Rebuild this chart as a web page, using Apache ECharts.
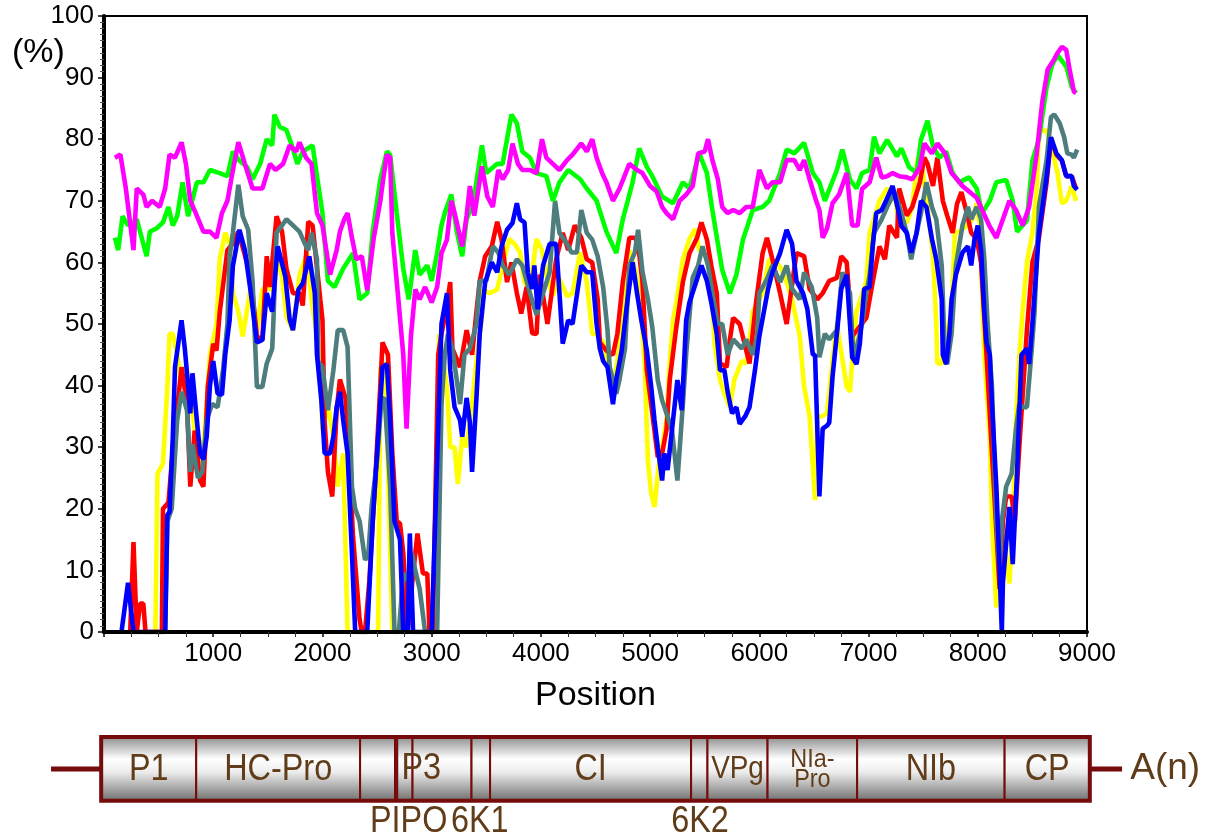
<!DOCTYPE html>
<html>
<head>
<meta charset="utf-8">
<script src="https://cdn.jsdelivr.net/npm/echarts@6/dist/echarts.min.js"></script>
<style>
  html, body { margin: 0; padding: 0; background: #fff; }
  #chart { width: 1221px; height: 839px; }
</style>
</head>
<body>
<div id="chart"></div>
<script>
// similarity curves, [position, %]
const greenPts = [[100,64],[130,62],[170,67.5],[220,66],[300,67],[390,61],[420,65],[480,65.5],[540,66.5],[590,69],[630,66],[670,67.5],[720,73],[770,67.5],[850,73],[910,73],[970,75],[1060,74.5],[1130,74],[1180,78],[1240,76.5],[1310,75.5],[1360,73.5],[1430,76],[1490,80],[1540,79],[1560,84],[1610,82],[1670,81.5],[1720,79],[1770,76],[1820,78],[1910,79],[1950,74],[2000,68],[2050,57],[2110,56],[2190,59],[2280,61.5],[2340,54],[2410,55],[2460,65],[2530,73.5],[2590,78],[2620,77.5],[2680,68],[2740,59],[2790,54],[2850,62],[2890,58],[2960,59.5],[3000,57],[3050,61.5],[3090,66],[3120,68],[3180,71],[3230,65],[3280,61],[3320,67],[3380,69.6],[3460,79],[3500,74.5],[3600,76],[3650,76],[3730,84],[3780,82.6],[3830,78],[3900,77],[3960,74.5],[4050,74],[4110,70],[4170,73],[4250,75],[4360,73.5],[4420,72],[4510,70],[4600,65],[4690,61.5],[4750,67],[4840,73],[4900,78.5],[4970,75.5],[5020,74],[5110,70.7],[5210,69.6],[5300,73],[5360,72],[5450,77.7],[5520,74.5],[5570,68.5],[5660,58.8],[5730,55],[5790,58],[5850,63.7],[5940,68.5],[6030,69],[6090,70],[6190,74.5],[6250,78.3],[6320,77.7],[6410,79.4],[6490,74.5],[6550,73],[6600,70],[6640,71.8],[6710,75],[6760,78.3],[6830,73.4],[6890,72],[6940,74.5],[7010,75],[7050,80.4],[7100,77.7],[7170,79.9],[7260,77.2],[7300,78.5],[7370,75.5],[7440,74.5],[7480,79.9],[7540,83],[7590,78.8],[7650,77],[7710,78],[7770,74.5],[7830,73],[7920,73.8],[7990,72],[8040,68],[8110,70],[8170,73],[8260,73.4],[8320,70],[8360,65],[8450,66.8],[8500,76.5],[8560,80],[8630,88.5],[8680,92],[8730,93.7],[8810,91.8],[8860,88.5],[8900,87.5]];

const magentaPts = [[100,77],[150,77.5],[200,72],[270,62],[300,72],[360,71],[390,69],[440,70],[510,69],[560,72],[600,77.5],[650,77],[710,79.5],[750,76],[790,70],[840,68],[910,65],[970,65],[1030,64],[1080,68],[1130,70],[1170,74],[1230,79.5],[1290,76],[1360,72],[1450,72],[1520,76],[1570,75],[1640,76],[1700,79],[1760,78],[1790,79.5],[1850,77],[1900,76],[1950,68],[2000,66],[2070,58],[2130,62],[2160,65],[2200,67],[2230,68],[2270,64],[2310,60.5],[2360,61],[2410,55.5],[2470,64],[2530,70],[2560,74],[2590,77.5],[2620,77],[2640,64.7],[2690,55],[2740,45],[2770,33],[2810,48],[2850,55.6],[2890,54],[2940,56],[3000,53.5],[3050,56],[3090,61.5],[3140,63.7],[3180,70],[3210,68],[3280,62.6],[3320,67.6],[3350,72.4],[3390,67.6],[3460,75.6],[3510,70.7],[3560,69],[3610,75],[3650,73.5],[3700,75],[3740,79.3],[3790,76],[3830,75],[3900,75],[3960,74.5],[4010,80],[4050,77],[4110,76],[4170,75],[4240,76.6],[4290,77.5],[4370,79.3],[4420,78],[4470,80],[4510,77],[4560,74.5],[4600,73],[4660,70],[4720,72],[4810,76],[4880,75],[4930,74.5],[5000,72.4],[5060,71.5],[5110,69],[5150,68],[5210,67],[5270,70],[5330,71],[5390,72.4],[5440,77.7],[5500,78],[5530,80],[5570,76.6],[5620,73.5],[5660,69],[5710,68],[5760,68.5],[5820,68],[5880,69],[5940,69],[6000,75],[6070,72],[6120,73],[6190,73],[6250,76.6],[6320,76.6],[6370,75],[6410,76.6],[6460,73.5],[6520,70],[6550,68.5],[6580,64],[6620,65.5],[6670,69.6],[6730,71],[6800,74.5],[6850,66],[6900,66],[6940,71.9],[7010,73],[7070,77],[7120,73.8],[7170,74],[7220,74.5],[7280,74],[7350,73.8],[7400,73.5],[7470,75.5],[7510,79.3],[7580,77.7],[7630,79.3],[7700,77.7],[7760,74.5],[7810,73.5],[7860,72.4],[7920,71.5],[7990,70.5],[8040,68.5],[8110,65.8],[8170,64],[8230,67],[8290,70],[8350,68.5],[8410,66],[8470,69],[8540,77.7],[8590,86],[8640,91.3],[8700,93],[8730,94],[8770,95],[8810,94.5],[8840,91.4],[8880,87.7],[8900,87.5]];

const redPts = [[240,0],[270,14.6],[300,0],[330,4.6],[360,4.6],[380,0],[530,0],[540,20],[590,21],[630,29.5],[710,43],[760,37],[790,23.6],[830,32.7],[880,24.6],[910,23.6],[950,39.8],[1000,46.8],[1030,45.7],[1060,52],[1130,62],[1180,63],[1230,65],[1310,59.9],[1360,55],[1400,48],[1450,47.4],[1490,61],[1520,56],[1580,67.5],[1630,65],[1670,59],[1730,55],[1790,55],[1820,53],[1870,66.6],[1910,66],[1980,54],[2000,50.7],[2020,34],[2050,26],[2090,22],[2130,36],[2160,41],[2210,38],[2230,34],[2280,15.5],[2340,2],[2360,0],[2390,0],[2430,8.4],[2480,23.6],[2530,40],[2550,47],[2600,45],[2640,29],[2680,18],[2710,17.6],[2740,12.8],[2780,0],[2830,9.5],[2870,16],[2920,9.5],[2960,9.5],[2980,0],[3010,0],[3060,45],[3090,48.4],[3130,52],[3170,56.8],[3190,46],[3260,43],[3320,49],[3370,45],[3410,52],[3440,57],[3490,61],[3550,62.6],[3600,66.6],[3640,63.7],[3690,56.8],[3730,60],[3780,55],[3820,51.7],[3870,56],[3920,48.5],[3960,48.4],[3990,58],[4060,50],[4140,60.5],[4200,64.8],[4250,62],[4310,66],[4370,64],[4420,60.5],[4470,60],[4520,54],[4540,47],[4600,45.7],[4660,45],[4700,48.4],[4750,56.8],[4810,64],[4860,64],[4890,63],[4930,56.8],[4970,42.5],[5020,35.5],[5070,28.4],[5110,29],[5150,32.8],[5180,41],[5240,49.5],[5300,56.8],[5360,61.5],[5430,64],[5470,66.5],[5520,63.7],[5560,59.5],[5610,55],[5640,43.6],[5700,43],[5730,47.4],[5760,51],[5820,50],[5880,45.7],[5910,43.6],[5970,53.5],[6030,61.5],[6070,64],[6120,60.5],[6190,55],[6250,50],[6340,61.5],[6410,61],[6460,55.7],[6530,54],[6580,55],[6640,57],[6710,57.5],[6750,61],[6800,60],[6850,48],[6980,51],[7040,57],[7100,62.6],[7150,60.5],[7190,66],[7260,64],[7280,72],[7350,67.6],[7400,69],[7470,73],[7510,77],[7540,76],[7590,72.4],[7630,77],[7680,70],[7720,67.6],[7770,64.8],[7810,69.5],[7850,71.4],[7900,68],[7940,64.8],[7990,63.8],[8030,60],[8080,45],[8130,29],[8200,7],[8230,18],[8260,22],[8310,22],[8340,18],[8380,30],[8450,49],[8500,60],[8560,64],[8630,73],[8670,80],[8720,77.5],[8770,76.5],[8810,74],[8860,74],[8900,72]];

const yellowPts = [[470,0],[490,25.7],[540,27.4],[580,39.8],[600,48.4],[630,48.4],[670,45],[710,40],[740,43],[790,40],[830,32.7],[880,27.4],[920,32],[970,45],[1030,50],[1060,60.5],[1110,64.8],[1150,63],[1180,55],[1230,52],[1270,48],[1340,55.6],[1400,49],[1450,55.6],[1490,56],[1540,55.5],[1580,60.5],[1630,57.7],[1670,51.2],[1730,49],[1790,58],[1860,61.5],[1900,54],[1950,48],[1980,45],[2000,32.7],[2050,37],[2100,31.7],[2140,23.6],[2190,29],[2230,0],[2510,0],[2530,42.5],[2550,44],[2590,34.4],[2620,12.8],[2640,0],[3010,0],[3070,48.4],[3140,39.8],[3170,30],[3210,30],[3240,24],[3280,31.7],[3320,30],[3370,37],[3410,44],[3460,51],[3470,55.6],[3530,55],[3600,55.6],[3650,59.5],[3710,63.8],[3760,63],[3810,61.6],[3850,56.8],[3900,55.6],[3960,63.8],[4010,62],[4050,58],[4110,54.6],[4170,57.3],[4240,54.5],[4290,55],[4360,61.6],[4420,56.8],[4470,48.4],[4510,48.4],[4570,47],[4610,44],[4660,39.8],[4700,44],[4750,50.6],[4770,59.5],[4810,62],[4860,59],[4900,55.6],[4930,49],[4950,43.6],[4980,27.9],[5010,22.5],[5040,20.3],[5090,29],[5110,30],[5150,34.4],[5180,43.6],[5210,50.6],[5240,53.5],[5300,60.5],[5360,63.8],[5410,65.4],[5450,62],[5520,61],[5560,57.5],[5590,46.8],[5640,40.9],[5680,38.7],[5730,36.5],[5770,40.9],[5840,44],[5880,43.6],[5930,50],[5940,52],[6030,55],[6090,60.5],[6160,60],[6200,59],[6250,56.8],[6300,54],[6370,48],[6410,39.8],[6460,35],[6510,21.4],[6530,35],[6570,35],[6620,35.5],[6670,44],[6710,50],[6800,39.8],[6830,39],[6850,44],[6890,52],[6980,57],[7010,64.8],[7100,70],[7170,72],[7240,71],[7280,66],[7350,66.5],[7400,69],[7450,77],[7490,75.5],[7540,69],[7590,61],[7620,50],[7630,43.6],[7670,43.6],[7710,48],[7760,52],[7790,64.8],[7830,65],[7900,66],[7950,67],[7990,69.6],[8020,66],[8040,55],[8060,45],[8110,31.7],[8130,18],[8170,4],[8200,14],[8230,16],[8260,12],[8290,7.9],[8320,17],[8350,34.4],[8380,44.6],[8410,52],[8450,60],[8500,64.8],[8540,72],[8560,81.4],[8630,81.4],[8680,78.3],[8730,74.5],[8770,69.6],[8810,70],[8860,72.4],[8900,70]];

const tealPts = [[560,0],[580,18],[620,20],[670,34.4],[710,39],[760,36],[790,26],[810,30.5],[860,25],[900,26],[940,34.4],[990,37],[1040,36.5],[1090,42.5],[1130,50],[1150,61],[1180,64.8],[1230,72.6],[1270,67.5],[1320,65.3],[1360,57],[1400,39.8],[1450,39.8],[1490,43.6],[1540,46],[1550,50],[1580,64.8],[1630,66],[1670,67],[1730,66],[1790,65],[1840,63],[1870,62],[1900,64.8],[1950,60.5],[1960,44],[2000,43],[2050,36],[2100,42.5],[2140,49],[2190,49],[2230,46.3],[2270,23.6],[2300,20],[2340,18],[2390,11.7],[2420,12.5],[2450,20.3],[2500,27.9],[2540,37.6],[2570,38],[2620,23.6],[2660,0],[2700,0],[2740,9.5],[2780,8.4],[2820,12.8],[2850,10],[2890,7],[2940,0],[3050,0],[3090,37],[3120,45],[3150,48.4],[3190,46],[3260,37],[3300,45],[3350,46],[3410,50],[3440,57],[3500,57],[3560,62.6],[3610,61.6],[3650,59.5],[3710,58],[3780,60.5],[3830,59.5],[3900,55],[3960,51.5],[4020,55],[4080,58.4],[4130,70],[4170,64.8],[4240,63],[4280,61.6],[4330,61.6],[4370,68.5],[4420,64.8],[4470,63.7],[4520,61],[4570,56],[4610,49],[4630,43],[4690,38.7],[4720,41],[4770,46],[4810,59.5],[4860,61.6],[4890,65.3],[4930,58.5],[4980,54],[5020,49.5],[5070,40.9],[5110,37.6],[5150,35.5],[5200,32.8],[5250,24.6],[5300,37],[5330,45],[5390,57.5],[5440,59.5],[5480,62.6],[5530,59.5],[5570,55],[5620,50],[5660,50],[5710,45],[5760,47.5],[5840,46],[5880,47.5],[5940,45],[5980,48],[6000,55],[6070,57.3],[6120,59.5],[6190,56.8],[6250,59.5],[6300,55.7],[6370,54],[6410,58.4],[6480,56],[6530,51],[6550,44.6],[6600,48.4],[6640,47.5],[6710,49],[6760,58.4],[6830,55],[6850,48],[6870,44.6],[6900,46.8],[6940,50],[6980,55],[7010,58],[7050,64.8],[7120,67],[7170,69],[7240,71.4],[7300,68],[7350,64.8],[7390,60.5],[7440,64.8],[7480,68],[7530,73],[7580,69],[7620,67],[7670,59.5],[7700,44],[7720,43.5],[7760,48.4],[7800,59.5],[7860,66],[7910,69],[7940,67],[7990,69],[8030,67],[8060,60.5],[8090,50],[8130,39.8],[8170,18],[8200,10],[8220,18],[8260,23.6],[8310,25.7],[8350,33],[8380,37],[8410,36.5],[8450,36.5],[8490,45],[8520,52],[8560,69],[8630,76.6],[8670,83.6],[8700,84],[8750,82.6],[8790,80.4],[8820,77.7],[8860,77.5],[8880,77],[8910,78.3]];

const bluePts = [[160,0],[220,8],[270,0],[560,0],[580,19],[600,19.5],[630,31.7],[650,43],[710,50.6],[740,46],[770,40],[790,35.5],[810,42],[850,34.4],[880,29],[910,28],[940,31.7],[970,40],[1000,44],[1040,38.7],[1080,38.5],[1110,45],[1150,50.6],[1180,59.4],[1240,65.3],[1290,62],[1340,55.6],[1400,47],[1450,47.4],[1490,55],[1540,52],[1590,62.6],[1660,57.7],[1700,50.7],[1730,49],[1780,55.6],[1820,56.6],[1880,61],[1930,55],[1950,45],[1990,37.6],[2020,29],[2070,29],[2100,31.7],[2130,36.5],[2160,39],[2190,34.4],[2230,29],[2270,12.8],[2300,0],[2410,0],[2460,18],[2510,31.7],[2550,43],[2590,43.5],[2620,34.4],[2660,18],[2710,15],[2740,0],[2780,0],[2800,16],[2830,0],[3000,0],[3090,50],[3140,55],[3170,42.5],[3210,36.5],[3260,34.4],[3280,31.7],[3320,38],[3350,34],[3370,26],[3410,38],[3440,48.4],[3490,56.8],[3550,60],[3600,58.4],[3640,62.6],[3690,65.3],[3740,66.4],[3780,69.6],[3810,67],[3850,66.5],[3880,58.4],[3920,55.7],[3940,59.5],[3970,52.4],[4020,59.5],[4080,63],[4140,63],[4170,55],[4200,46.8],[4250,50.6],[4290,50],[4370,59.5],[4420,58.4],[4470,58.4],[4510,50],[4540,46],[4570,44],[4610,43],[4660,37],[4690,41],[4740,45.7],[4790,53.5],[4840,60],[4880,55],[4920,50.6],[4970,45.7],[5010,39.8],[5040,34.4],[5070,30],[5110,24.6],[5130,29],[5160,26.3],[5210,34.4],[5250,40.9],[5290,36],[5330,50.6],[5360,53.5],[5430,57.3],[5470,59.5],[5520,57],[5560,53.5],[5610,48.4],[5640,42.5],[5680,42.5],[5710,39],[5750,35.5],[5790,36.5],[5820,33.8],[5870,35],[5910,36.5],[5960,42.5],[6000,48],[6080,55.7],[6120,58.4],[6190,61.5],[6250,65.3],[6300,63],[6340,57],[6400,55],[6440,52.4],[6490,45],[6510,45],[6550,22],[6580,33],[6620,33.5],[6640,34],[6670,41.4],[6710,48.4],[6750,55.7],[6800,58],[6850,44.6],[6890,43.5],[6920,46.8],[6960,55.7],[7010,56],[7040,63],[7070,68],[7120,68.5],[7160,70],[7220,72.4],[7270,68.6],[7300,65.9],[7350,64.8],[7390,61.6],[7440,64.8],[7480,70],[7530,69],[7580,63.8],[7620,60.5],[7670,54],[7680,45],[7710,43.5],[7740,48.4],[7760,54],[7800,58],[7860,61.6],[7910,62.6],[7940,59.5],[7970,63.8],[8000,66],[8030,62],[8060,52],[8080,47],[8110,45],[8130,37],[8170,23.6],[8200,10],[8220,0],[8230,8],[8260,14.4],[8290,20.3],[8320,11],[8360,26],[8400,45],[8450,46],[8470,43.5],[8500,50],[8560,64.8],[8630,73.8],[8670,80.3],[8720,77.7],[8770,76.6],[8810,74],[8860,74],[8880,72.4],[8910,71.8]];

const xTicks = [0, 1000, 2000, 3000, 4000, 5000, 6000, 7000, 8000, 9000];

// genome map: [start, end, label] in nt
const segments = [
  [0, 870, 'P1'], [870, 2370, 'HC-Pro'], [2370, 2690, ''], [2690, 2710, ''],
  [2710, 2850, ''], [2850, 3390, ''], [3390, 3560, ''], [3560, 5400, 'CI'],
  [5400, 5550, ''], [5550, 6100, 'VPg'], [6100, 6920, 'NIa-\nPro'],
  [6920, 8270, 'NIb'], [8270, 9050, 'CP']
];
const genomeSpan = [0, 9050];
const leftStub = [[-459, 0.5], [0, 0.5]];
const rightStub = [[9050, 0.5], [9345, 0.5]];
const mapLabels = [
  ['P3', 2930, 0.5], ['PIPO', 2815, -0.34], ['6K1', 3465, -0.34],
  ['6K2', 5482, -0.34], ['A(n)', 9740, 0.5]
];

const brown = '#603c19';
const maroon = '#760b0b';
const labelFont = { 'VPg': 31, 'NIa-\nPro': 26, 'A(n)': 37 };

function curve(name, pts, color) {
  return {
    name: name, type: 'line', data: pts, showSymbol: false,
    xAxisIndex: 0, yAxisIndex: 0,
    lineStyle: { color: color, width: 4.6 }, itemStyle: { color: color }
  };
}

function mapText(label, x, y) {
  const two = label.indexOf('\n') >= 0;
  return {
    type: 'text', x: x, y: y, scaleX: label === 'A(n)' ? 1 : 0.9,
    style: {
      text: label, fill: brown, align: 'center', verticalAlign: 'middle',
      fontFamily: 'Liberation Sans', fontSize: labelFont[label] || 36,
      lineHeight: two ? 20 : 38
    }
  };
}

const chart = echarts.init(document.getElementById('chart'));
chart.setOption({
  animation: false,
  backgroundColor: '#fff',
  title: {
    text: '(%)', left: 7, top: 31,
    textStyle: { fontFamily: 'Liberation Sans', fontSize: 34, fontWeight: 'normal', color: '#000' }
  },
  grid: [
    { left: 104, right: 134, top: 16, bottom: 207, show: true, borderColor: '#000', borderWidth: 2 },
    { left: 40, right: 11, top: 737, height: 102 }
  ],
  xAxis: [{
    type: 'value', min: 0, max: 9000, interval: 1000, z: 5,
    name: 'Position', nameLocation: 'middle', nameGap: 47,
    nameTextStyle: { fontFamily: 'Liberation Sans', fontSize: 34, color: '#000' },
    axisLine: { lineStyle: { color: '#000', width: 4 } },
    axisTick: { length: 5, lineStyle: { color: '#000', width: 1.5 } },
    minorTick: { show: true, splitNumber: 4, length: 5, lineStyle: { color: '#333', width: 1 } },
    splitLine: { show: false },
    axisLabel: {
      margin: 9, fontFamily: 'Liberation Sans', fontSize: 26, color: '#000',
      formatter: function (v) { return v === xTicks[0] ? '' : String(v); }
    }
  }, {
    gridIndex: 1, type: 'value', min: -560, max: 10150, show: false
  }],
  yAxis: [{
    type: 'value', min: 0, max: 100, interval: 10, z: 5,
    axisLine: { show: true, lineStyle: { color: '#000', width: 4 } },
    axisTick: { show: true, length: 6, lineStyle: { color: '#000', width: 1.5 } },
    minorTick: { show: true, splitNumber: 10, length: 4, lineStyle: { color: '#555', width: 1 } },
    splitLine: { show: false },
    axisLabel: { margin: 10, fontFamily: 'Liberation Sans', fontSize: 26, color: '#000' }
  }, {
    gridIndex: 1, type: 'value', min: -0.6, max: 1, show: false
  }],
  series: [
    curve('yellow', yellowPts, '#ffff00'),
    curve('red', redPts, '#ff0000'),
    curve('teal', tealPts, '#4e7d7d'),
    curve('green', greenPts, '#00ff00'),
    curve('magenta', magentaPts, '#ff00ff'),
    curve('blue', bluePts, '#0000ff'),
    {
      type: 'line', xAxisIndex: 1, yAxisIndex: 1, data: leftStub, showSymbol: false,
      lineStyle: { color: maroon, width: 5 }
    },
    {
      type: 'line', xAxisIndex: 1, yAxisIndex: 1, data: rightStub, showSymbol: false,
      lineStyle: { color: maroon, width: 5 }
    },
    {
      type: 'custom', xAxisIndex: 1, yAxisIndex: 1, data: segments,
      renderItem: function (params, api) {
        const a = api.coord([api.value(0), 1]);
        const b = api.coord([api.value(1), 0]);
        const label = segments[params.dataIndex][2];
        return {
          type: 'group',
          children: [{
            type: 'rect',
            shape: { x: a[0], y: a[1], width: b[0] - a[0], height: b[1] - a[1] },
            style: {
              fill: new echarts.graphic.LinearGradient(0, 0, 0, 1, [
                { offset: 0, color: '#8a8a8a' },
                { offset: 0.35, color: '#ffffff' },
                { offset: 0.55, color: '#ececec' },
                { offset: 1, color: '#6c6c6c' }
              ]),
              stroke: maroon, lineWidth: 2
            }
          }, mapText(label, (a[0] + b[0]) / 2, (a[1] + b[1]) / 2 + 1)]
        };
      }
    },
    {
      type: 'custom', xAxisIndex: 1, yAxisIndex: 1, data: [genomeSpan],
      renderItem: function (params, api) {
        const a = api.coord([api.value(0), 1]);
        const b = api.coord([api.value(1), 0]);
        return {
          type: 'rect',
          shape: { x: a[0], y: a[1], width: b[0] - a[0], height: b[1] - a[1] },
          style: { fill: 'none', stroke: maroon, lineWidth: 4 }
        };
      }
    },
    {
      type: 'custom', xAxisIndex: 1, yAxisIndex: 1, z: 4,
      data: mapLabels.map(function (d) { return [d[1], d[2]]; }),
      renderItem: function (params, api) {
        const p = api.coord([api.value(0), api.value(1)]);
        return mapText(mapLabels[params.dataIndex][0], p[0], p[1]);
      }
    }
  ]
});
</script>
</body>
</html>
